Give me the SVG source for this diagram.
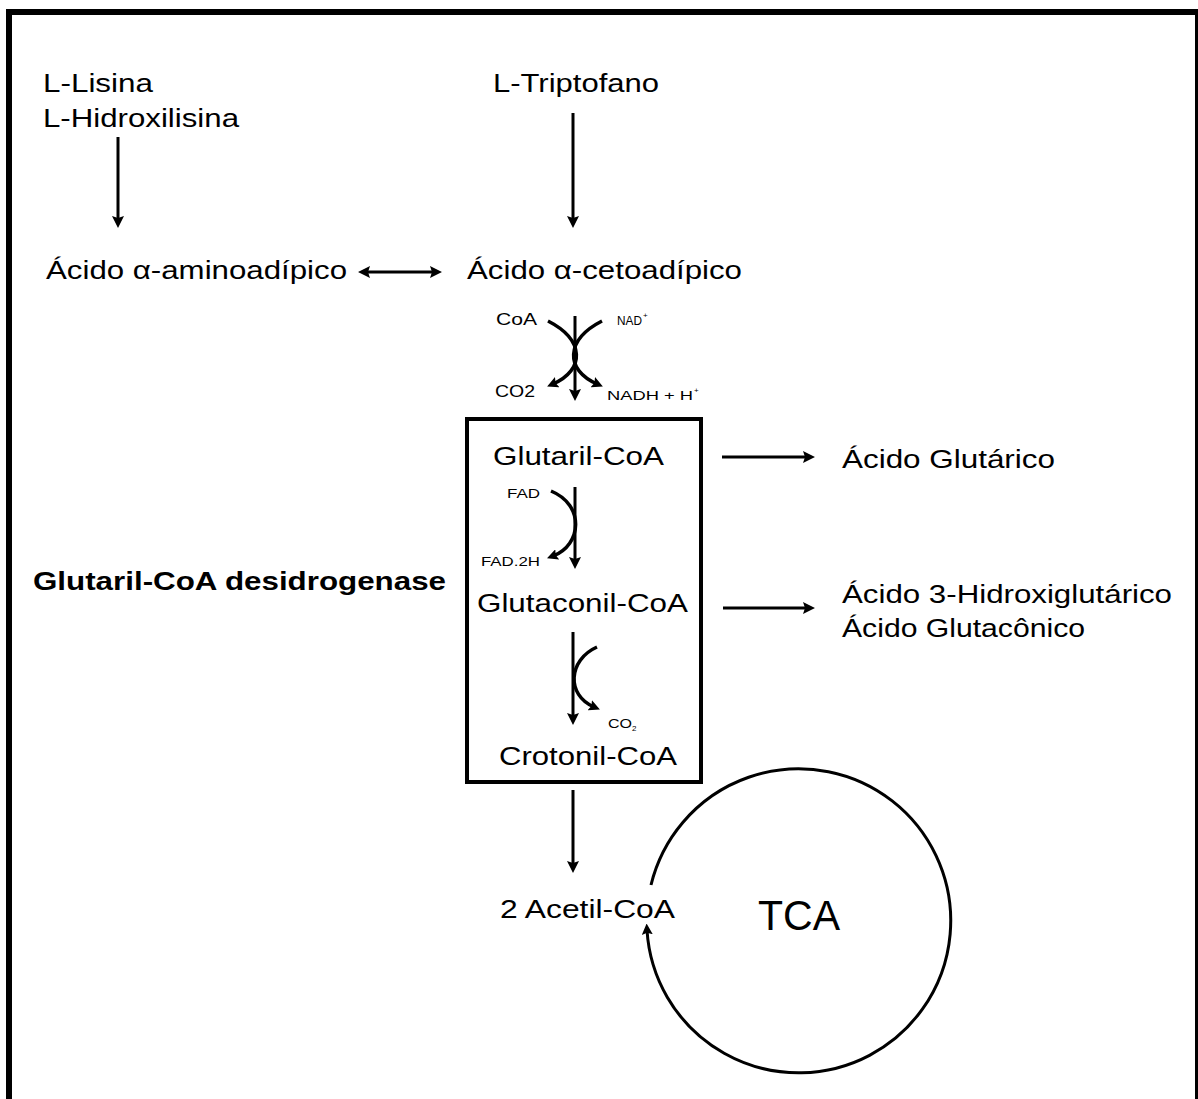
<svg xmlns="http://www.w3.org/2000/svg" width="1198" height="1099" viewBox="0 0 1198 1099">
<style>
text{font-family:"Liberation Sans",Arial,sans-serif;fill:#000}
.t{font-size:25px}
.s{font-size:16px}
.xs{font-size:13px}
.ln{stroke:#000;stroke-width:3;fill:none}
.cv{stroke:#000;stroke-width:3.5;fill:none}
</style>
<defs>
<marker id="ah" viewBox="0 0 12 12" refX="5" refY="6" markerWidth="12" markerHeight="12" markerUnits="userSpaceOnUse" orient="auto-start-reverse">
<path d="M0,0 L12,6 L0,12 L2,6 z" fill="#000"/>
</marker>
<marker id="as" viewBox="0 0 12 12" refX="5" refY="6" markerWidth="11" markerHeight="11" markerUnits="userSpaceOnUse" orient="auto">
<path d="M0,0 L12,6 L0,12 L2,6 z" fill="#000"/>
</marker>
</defs>
<rect x="0" y="0" width="1198" height="1099" fill="#fff"/>
<rect id="frame" x="9" y="12" width="1189" height="1200" fill="none" stroke="#000" stroke-width="6"/>

<g id="connectors">
<line class="ln" x1="118" y1="137" x2="118" y2="221" marker-end="url(#ah)"/>
<line class="ln" x1="573" y1="113" x2="573" y2="221" marker-end="url(#ah)"/>
<line class="ln" x1="365" y1="272" x2="435" y2="272" marker-start="url(#ah)" marker-end="url(#ah)"/>
<line class="ln" x1="575" y1="316" x2="575" y2="394" marker-end="url(#ah)"/>
<path class="cv" d="M548,321 C585,340 585,370 553,384" marker-end="url(#as)"/>
<path class="cv" d="M602,321 C565,340 565,370 597,384" marker-end="url(#as)"/>
<line class="ln" x1="722" y1="457" x2="808" y2="457" marker-end="url(#ah)"/>
<line class="ln" x1="723" y1="608" x2="808" y2="608" marker-end="url(#ah)"/>
<line class="ln" x1="575" y1="487" x2="575" y2="562" marker-end="url(#ah)"/>
<path class="cv" d="M551,491 C585,505 582,545 553,556" marker-end="url(#as)"/>
<line class="ln" x1="573" y1="632" x2="573" y2="718" marker-end="url(#ah)"/>
<path class="cv" d="M597,647 C568,660 566,695 594,707" marker-end="url(#as)"/>
<line class="ln" x1="573" y1="790" x2="573" y2="866" marker-end="url(#ah)"/>
<path class="ln" d="M651,885 A152,152 0 1 1 647,930" marker-end="url(#as)"/>
</g>

<g id="lisina">
<text class="t" x="43" y="92" textLength="110" lengthAdjust="spacingAndGlyphs">L-Lisina</text>
<text class="t" x="43" y="127" textLength="196" lengthAdjust="spacingAndGlyphs">L-Hidroxilisina</text>
</g>
<g id="triptofano">
<text class="t" x="493" y="92" textLength="166" lengthAdjust="spacingAndGlyphs">L-Triptofano</text>
</g>
<g id="aminoadipico">
<text class="t" x="46" y="279" textLength="301" lengthAdjust="spacingAndGlyphs">Ácido α-aminoadípico</text>
</g>
<g id="cetoadipico">
<text class="t" x="467" y="279" textLength="275" lengthAdjust="spacingAndGlyphs">Ácido α-cetoadípico</text>
</g>
<g id="cofactors1">
<text class="s" x="496" y="325" textLength="41" lengthAdjust="spacingAndGlyphs">CoA</text>
<text class="xs" x="617" y="325"><tspan textLength="25" lengthAdjust="spacingAndGlyphs">NAD</tspan><tspan font-size="8" dx="1" dy="-7">+</tspan></text>
<text class="s" x="495" y="397" textLength="40" lengthAdjust="spacingAndGlyphs">CO2</text>
<text class="xs" x="607" y="400"><tspan textLength="86" lengthAdjust="spacingAndGlyphs">NADH + H</tspan><tspan font-size="8" dx="1" dy="-7">+</tspan></text>
</g>
<g id="box">
<rect x="467" y="419" width="234" height="363" fill="none" stroke="#000" stroke-width="4"/>
</g>
<g id="glutaril">
<text class="t" x="493" y="465" textLength="171" lengthAdjust="spacingAndGlyphs">Glutaril-CoA</text>
</g>
<g id="cofactors2">
<text class="xs" x="507" y="498" textLength="33" lengthAdjust="spacingAndGlyphs">FAD</text>
<text class="xs" x="481" y="566" textLength="59" lengthAdjust="spacingAndGlyphs">FAD.2H</text>
</g>
<g id="glutaconil">
<text class="t" x="477" y="612" textLength="211" lengthAdjust="spacingAndGlyphs">Glutaconil-CoA</text>
</g>
<g id="cofactors3">
<text x="608" y="728" font-size="12"><tspan textLength="24" lengthAdjust="spacingAndGlyphs">CO</tspan><tspan font-size="8" dy="3">2</tspan></text>
</g>
<g id="crotonil">
<text class="t" x="499" y="765" textLength="178" lengthAdjust="spacingAndGlyphs">Crotonil-CoA</text>
</g>
<g id="acetil">
<text class="t" x="500" y="918" textLength="175" lengthAdjust="spacingAndGlyphs">2 Acetil-CoA</text>
</g>
<g id="tca">
<text x="758" y="930" font-size="42" textLength="82" lengthAdjust="spacingAndGlyphs">TCA</text>
</g>
<g id="glutarico">
<text class="t" x="842" y="468" textLength="213" lengthAdjust="spacingAndGlyphs">Ácido Glutárico</text>
</g>
<g id="hidroxiglutarico">
<text class="t" x="842" y="603" textLength="330" lengthAdjust="spacingAndGlyphs">Ácido 3-Hidroxiglutárico</text>
<text class="t" x="842" y="637" textLength="243" lengthAdjust="spacingAndGlyphs">Ácido Glutacônico</text>
</g>
<g id="enzyme">
<text class="t" x="33" y="590" font-weight="bold" textLength="413" lengthAdjust="spacingAndGlyphs">Glutaril-CoA desidrogenase</text>
</g>
</svg>
